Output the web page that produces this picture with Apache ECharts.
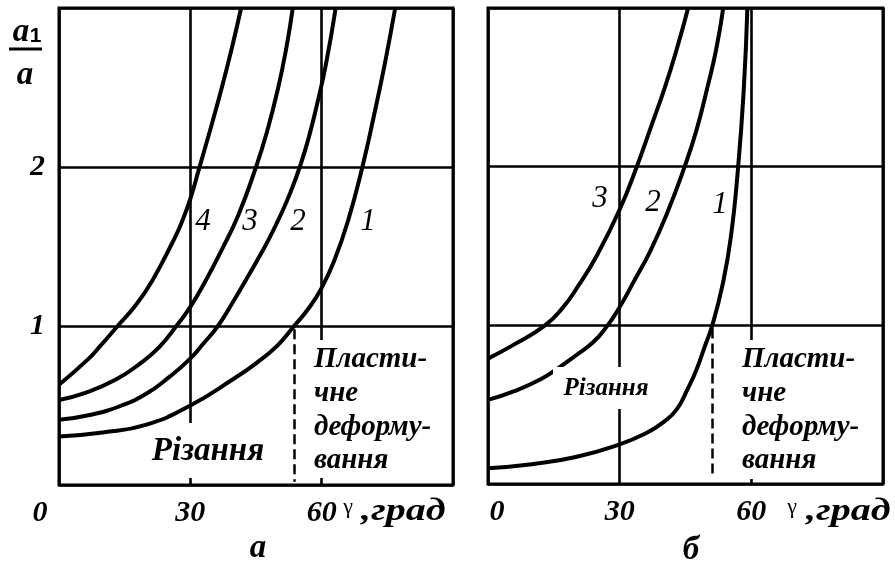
<!DOCTYPE html>
<html>
<head>
<meta charset="utf-8">
<script src="https://cdn.jsdelivr.net/npm/echarts@6/dist/echarts.min.js"></script>
<style>
  html, body { margin: 0; padding: 0; background: #fff; }
  #chart { width: 895px; height: 562px; }
</style>
</head>
<body>
<div id="chart"></div>
<script>
// Rake angle γ (deg) vs. chip thickness ratio a1/a
const xTickLabels = ['0', '30', '60', ''];
const yTickLabels = ['', '1', '2', ''];

// Panel "а": curves 1–4  [γ, a1/a]
const curveA1 = [[0, 0.305], [10, 0.33], [20, 0.38], [30, 0.50], [40, 0.67], [45, 0.765], [50, 0.88], [53.7, 1.0], [57, 1.11], [60, 1.24], [63, 1.42], [66, 1.66], [69.3, 2.0], [72, 2.33], [74.5, 2.66], [76.8, 3.0]];
const curveA2 = [[0, 0.41], [7, 0.44], [14.3, 0.50], [20, 0.575], [25, 0.675], [29.8, 0.79], [33, 0.89], [36.3, 1.0], [39.5, 1.14], [42.7, 1.29], [45, 1.40], [48, 1.55], [51, 1.72], [53, 1.85], [55, 2.0], [57, 2.18], [59, 2.4], [61, 2.65], [63.2, 3.0]];
const curveA3 = [[0, 0.535], [6, 0.58], [13.1, 0.665], [18.8, 0.77], [23, 0.87], [26.8, 1.0], [30, 1.12], [33.4, 1.28], [37, 1.47], [41, 1.70], [45, 2.0], [47.5, 2.22], [50, 2.49], [52, 2.76], [53.4, 3.0]];
const curveA4 = [[0, 0.63], [6.6, 0.79], [9.3, 0.87], [13.4, 1.0], [17.5, 1.13], [21.4, 1.29], [26, 1.53], [28, 1.65], [30, 1.80], [32, 1.99], [34.5, 2.23], [37, 2.48], [39.5, 2.75], [41.6, 3.0]];

// Panel "б": curves 1–3
const curveB1 = [[0, 0.10], [10, 0.125], [20, 0.17], [30, 0.25], [36, 0.32], [40, 0.39], [43, 0.47], [45.5, 0.60], [47.5, 0.72], [49.3, 0.86], [51.1, 1.0], [53.4, 1.25], [55.3, 1.55], [57.0, 2.0], [58.3, 2.5], [59.1, 3.0]];
const curveB2 = [[0, 0.53], [6, 0.585], [12, 0.66], [16, 0.73], [20, 0.81], [24, 0.895], [27, 0.99], [30, 1.115], [33.3, 1.28], [37, 1.47], [41, 1.72], [44.8, 2.0], [47.5, 2.23], [50, 2.5], [52, 2.74], [53.6, 3.0]];
const curveB3 = [[0, 0.79], [6, 0.88], [13, 1.0], [17, 1.11], [20.6, 1.25], [25, 1.45], [30, 1.73], [33.9, 2.0], [37, 2.24], [40.3, 2.5], [43, 2.74], [45.6, 3.0]];

// Cutting / plastic deformation boundary (deg) and its vertical extent
const boundaryA = 53.7;
const boundaryB = 51.1;
const boundaryTopA = 0.98, boundaryBottomA = 0.02;
const boundaryTopB = 0.98, boundaryBottomB = 0.04;

const SERIF = '"Liberation Serif", "Times New Roman", serif';
const BI = (size) => 'italic bold ' + size + 'px ' + SERIF;

const chart = echarts.init(document.getElementById('chart'), null, { renderer: 'canvas' });

function xAxisFor(gridIndex, zeroPad) {
  return {
    type: 'value', gridIndex, min: 0, max: 90, interval: 30,
    axisLine: { show: false }, axisTick: { show: false },
    splitLine: { show: true, lineStyle: { color: '#000', width: 2.6 } },
    axisLabel: {
      margin: 13,
      color: '#000',
      fontFamily: SERIF, fontStyle: 'italic', fontWeight: 'bold', fontSize: 30,
      formatter: (v) => {
        const t = xTickLabels[Math.round(v / 30)];
        return v === 0 ? '{z|' + t + '}' : t;
      },
      rich: { z: { fontFamily: SERIF, fontStyle: 'italic', fontWeight: 'bold', fontSize: 30, color: '#000', padding: zeroPad } }
    }
  };
}

function yAxisFor(gridIndex, showLabels) {
  return {
    type: 'value', gridIndex, min: 0, max: 3, interval: 1,
    axisLine: { show: false }, axisTick: { show: false },
    splitLine: { show: true, lineStyle: { color: '#000', width: 2.6 } },
    axisLabel: {
      show: showLabels, margin: 14, color: '#000',
      fontFamily: SERIF, fontStyle: 'italic', fontWeight: 'bold', fontSize: 30,
      formatter: (v) => yTickLabels[Math.round(v)]
    }
  };
}

function curve(data, idx, boundary) {
  const s = {
    type: 'line', data, xAxisIndex: idx, yAxisIndex: idx,
    symbol: 'none', smooth: 0.5,
    lineStyle: { color: '#000', width: 4 }, silent: true, z: 3
  };
  if (boundary) {
    s.markLine = {
      silent: true, symbol: 'none', label: { show: false },
      lineStyle: { color: '#000', width: 2.5, type: [10, 5] },
      data: [[{ coord: [boundary[0], boundary[1]] }, { coord: [boundary[0], boundary[2]] }]]
    };
  }
  return s;
}

function txt(text, x, y, font, align, extra, scaleX) {
  return {
    type: 'text', x, y, z: 60, scaleX: scaleX || 1,
    style: Object.assign({ text, font, fill: '#000', align: align || 'center', verticalAlign: 'middle' }, extra || {})
  };
}
function whiteBox(x, y, w, h) {
  return { type: 'rect', z: 55, shape: { x, y, width: w, height: h }, style: { fill: '#fff' } };
}

const plastic = 'Пласти-\nчне\nдеформу-\nвання';

chart.setOption({
  animation: false,
  backgroundColor: '#fff',
  grid: [
    { left: 59, top: 8, width: 394, height: 477, show: true, borderColor: '#000', borderWidth: 3, backgroundColor: 'transparent' },
    { left: 488, top: 8, width: 395, height: 476, show: true, borderColor: '#000', borderWidth: 3, backgroundColor: 'transparent' }
  ],
  xAxis: [xAxisFor(0, [0, 38, 0, 0]), xAxisFor(1, [0, 0, 0, 18])],
  yAxis: [yAxisFor(0, true), yAxisFor(1, false)],
  series: [
    curve(curveA1, 0, [boundaryA, boundaryTopA, boundaryBottomA]),
    curve(curveA2, 0), curve(curveA3, 0), curve(curveA4, 0),
    curve(curveB1, 1, [boundaryB, boundaryTopB, boundaryBottomB]),
    curve(curveB2, 1), curve(curveB3, 1)
  ],
  graphic: [
    // region captions sit on white patches that break the grid lines
    whiteBox(184, 423, 12, 55),
    whiteBox(150, 433, 118, 45),
    whiteBox(306, 340, 142, 138),
    whiteBox(553, 367, 102, 42),
    whiteBox(738, 340, 142, 139),
    txt('Різання', 208, 451, BI(33)),
    txt('Різання', 606, 389, BI(25)),
    txt(plastic, 314, 343, BI(29), 'left', { verticalAlign: 'top', lineHeight: 33.7 }),
    txt(plastic, 742, 343, BI(29), 'left', { verticalAlign: 'top', lineHeight: 33.7 }),

    // curve numbers
    txt('4', 203, 222, 'italic 31px ' + SERIF),
    txt('3', 250, 222, 'italic 31px ' + SERIF),
    txt('2', 298, 222, 'italic 31px ' + SERIF),
    txt('1', 368, 222, 'italic 31px ' + SERIF),
    txt('3', 600, 199, 'italic 31px ' + SERIF),
    txt('2', 653, 203, 'italic 31px ' + SERIF),
    txt('1', 720, 205, 'italic 31px ' + SERIF),

    // axis names
    txt('γ', 348, 507, '22px ' + SERIF),
    txt(',град', 361, 512, BI(32), 'left', null, 1.25),
    txt('γ', 792, 507, '22px ' + SERIF),
    txt(',град', 806, 512, BI(32), 'left', null, 1.25),

    // a1 / a fraction
    txt('a', 21, 32, BI(33)),
    txt('1', 35.5, 36, 'bold 21px "Liberation Sans", Arial, sans-serif'),
    { type: 'line', z: 60, shape: { x1: 9, y1: 49, x2: 42, y2: 49 }, style: { stroke: '#000', lineWidth: 3 } },
    txt('a', 25, 75, BI(33)),

    // panel captions
    txt('а', 258, 548, BI(33)),
    txt('б', 691, 550, BI(33))
  ]
});
</script>
</body>
</html>
